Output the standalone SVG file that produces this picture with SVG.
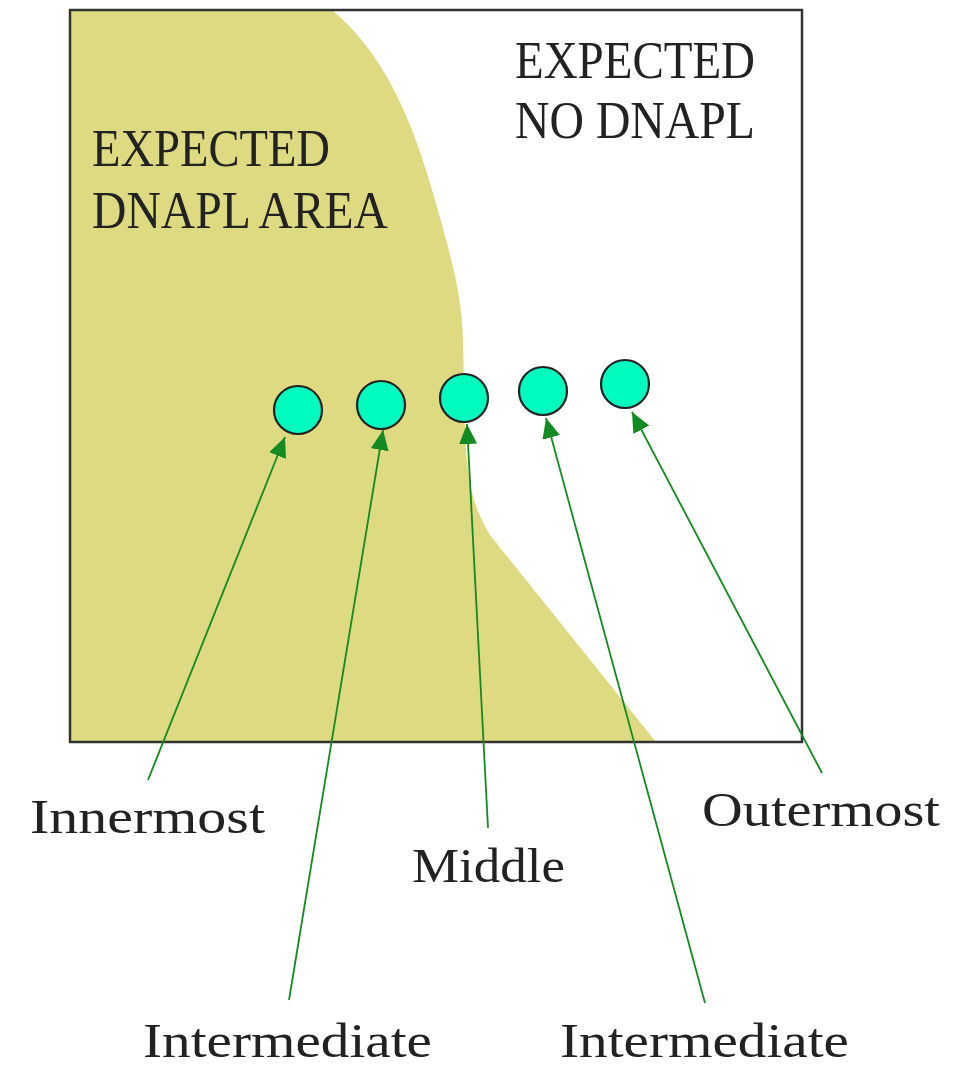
<svg xmlns="http://www.w3.org/2000/svg" width="977" height="1067" viewBox="0 0 977 1067">
<style>
.lbl{font-family:"Liberation Serif","DejaVu Serif",serif;fill:#222;}
.big{font-size:52px;}
.sm{font-size:49px;}
.well{fill:#00FBBF;stroke:#222;stroke-width:2.2;}
.arr{stroke:#148A22;stroke-width:1.8;fill:none;marker-end:url(#ah);}
</style>
<defs>
<marker id="ah" markerUnits="userSpaceOnUse" markerWidth="24" markerHeight="20" refX="20" refY="9" orient="auto">
<path d="M0,0 L20,9 L0,18 Z" fill="#148A22"/>
</marker>
</defs>
<rect width="977" height="1067" fill="#fff"/>
<g id="dnapl-area">
<path d="M70,10 L332,10 C380,50 410,110 435,200 C455,270 462,300 463,340 L465,430 C467,480 472,505 490,535 L656,742 L70,742 Z" fill="#DEDA82"/>
</g>
<g id="frame">
<rect x="70" y="10" width="732" height="732" fill="none" stroke="#333" stroke-width="2.5"/>
</g>
<g id="area-labels">
<text class="lbl big" x="92" y="166" textLength="238" lengthAdjust="spacingAndGlyphs">EXPECTED</text>
<text class="lbl big" x="92" y="228" textLength="296" lengthAdjust="spacingAndGlyphs">DNAPL AREA</text>
<text class="lbl big" x="515" y="78" textLength="240" lengthAdjust="spacingAndGlyphs">EXPECTED</text>
<text class="lbl big" x="515" y="138" textLength="240" lengthAdjust="spacingAndGlyphs">NO DNAPL</text>
</g>
<g id="connectors">
<line class="arr" x1="148" y1="780" x2="285" y2="437"/>
<line class="arr" x1="289" y1="1000" x2="383" y2="430"/>
<line class="arr" x1="488" y1="828" x2="467" y2="424"/>
<line class="arr" x1="705" y1="1003" x2="546" y2="418"/>
<line class="arr" x1="822" y1="773" x2="632" y2="412"/>
</g>
<g id="well-innermost"><circle class="well" cx="298" cy="410" r="24"/></g>
<g id="well-intermediate-1"><circle class="well" cx="381" cy="405" r="24"/></g>
<g id="well-middle"><circle class="well" cx="464" cy="398" r="24"/></g>
<g id="well-intermediate-2"><circle class="well" cx="543" cy="391" r="24"/></g>
<g id="well-outermost"><circle class="well" cx="625" cy="384" r="24"/></g>
<g id="labels">
<text class="lbl sm" x="30" y="833" textLength="235" lengthAdjust="spacingAndGlyphs">Innermost</text>
<text class="lbl sm" x="412" y="882" textLength="153" lengthAdjust="spacingAndGlyphs">Middle</text>
<text class="lbl sm" x="702" y="826" textLength="238" lengthAdjust="spacingAndGlyphs">Outermost</text>
<text class="lbl sm" x="143" y="1057" textLength="289" lengthAdjust="spacingAndGlyphs">Intermediate</text>
<text class="lbl sm" x="560" y="1057" textLength="289" lengthAdjust="spacingAndGlyphs">Intermediate</text>
</g>
</svg>
